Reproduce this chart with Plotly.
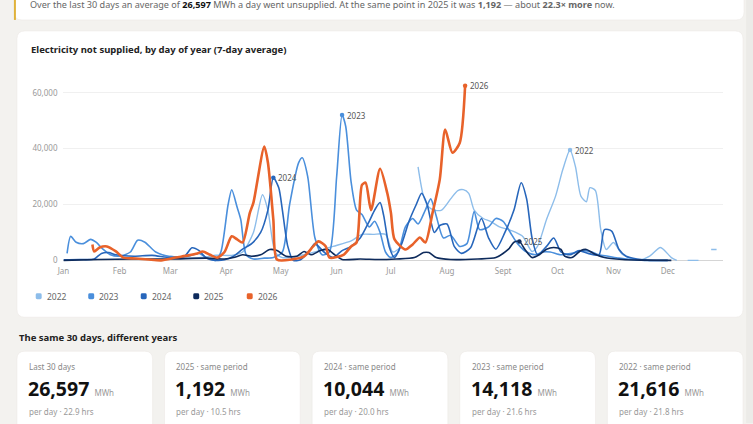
import plotly.graph_objects as go

W, H = 753, 424

# Month ticks (day of year)
month_days = [1, 32, 60, 91, 121, 152, 182, 213, 244, 274, 305, 335]
month_labels = ["Jan", "Feb", "Mar", "Apr", "May", "Jun", "Jul", "Aug", "Sept", "Oct", "Nov", "Dec"]

# 7-day average MWh not supplied
days_2022 = [60, 70, 80, 84, 88, 94, 100, 106, 111, 114, 118, 122, 130, 140, 150, 160, 166, 172, 179, 183, 188, None,
             197, 200, 203, 206, 210, 215, 219, 222, 225, 228, 233, 237, 242, 247, 251, 255, 260, 263, 268, 273,
             277, 281, 284, 287, 290, 292, 295, 298, 301, 305, 310, 319, 325, 331, 337, 340, None, 346, 352, None, 359, 362]
mwh_2022 = [1500, 800, 1200, 1800, 1800, 1800, 3000, 10000, 23500, 18000, 3000, 1000, 1500, 3000, 5000, 7000, 9300, 9300, 9300, 3000, 5000, None,
            33500, 23000, 19000, 18000, 18000, 22000, 25000, 25300, 24000, 18000, 15000, 14000, 12000, 11000, 10000, 8500, 3200, 5000, 14600, 23000,
            32500, 39500, 33500, 23000, 21000, 26000, 25000, 11000, 3900, 6400, 2100, 0, 1500, 4600, 1000, 0, None, 0, 0, None, 3900, 3900]

days_2023 = [3, 5, 8, 12, 16, 19, 23, 27, 32, 38, 42, 46, 52, 60, 70, 76, 80, 85, 88, 92, 94, 97, 99, 102, 106, 112,
             117, 122, 126, 131, 133, 136, 140, 144, 148, 152, 155, 157, 160, 163, 166, 170, 173, 176, 179, 182, 186,
             190, 194, 197, 201, 204, 207, 211, 215, 220, 224, 228, 231, 236, 240, 244, 248, 252, 257, 262, 266, 270,
             276, 282, 288, 293, 297, 302, 308, 315, 322, 335]
mwh_2023 = [2500, 8600, 6500, 6000, 7500, 6500, 3900, 2000, 1500, 3000, 7200, 6500, 3000, 1400, 1500, 2500, 1000, 0, 3000, 20000, 25300, 19000, 14600, 2000, 500, 800,
            1000, 3000, 20000, 35000, 36700, 30000, 8000, 2000, 3000, 30000, 52000, 48000, 28000, 18000, 16400, 12000, 14000, 10000, 3000, 1000, 3000,
            12000, 15000, 13000, 18000, 22000, 16000, 8000, 9000, 5000, 6000, 17500, 11000, 12000, 15000, 14000, 10000, 6000, 3000, 2000, 3000, 3000,
            2000, 2500, 3500, 3000, 2000, 1500, 800, 300, 0, 0]

days_2024 = [1, 10, 18, 22, 26, 30, 40, 50, 60, 68, 72, 76, 80, 85, 90, 95, 100, 105, 110, 114, 117, 120, 122, 125, 128,
             132, 137, 140, 145, 150, 155, 160, 165, 170, 173, 176, 178, 181, 184, 188, 192, 196, 199, 202, 206, 209,
             213, 217, 221, 226, 232, 236, 240, 245, 250, 254, 257, 260, 263, 268, 272, 276, 281, 286, 291, 297, 300,
             304, 308, 312, 318, 325, 335]
mwh_2024 = [200, 300, 500, 2500, 2800, 2000, 1500, 1800, 1000, 1500, 4500, 3500, 800, 0, 200, 1500, 4000, 6000, 10000, 18000, 29600, 26000, 18000, 5000, 0,
            200, 3500, 6000, 3000, 1000, 3500, 5000, 8000, 14000, 18000, 20700, 16000, 5000, 1000, 6000, 14000, 20000, 24000, 20000, 10000, 12500,
            13000, 5000, 2500, 4500, 15000, 8000, 4000, 10000, 18000, 27800, 22000, 8000, 2000, 5000, 8000, 3000, 2000, 3500, 2500, 2000, 11000,
            10500, 4000, 1500, 500, 0, 0]

days_2025 = [1, 20, 40, 60, 80, 90, 95, 100, 105, 110, 115, 119, 124, 130, 134, 138, 143, 147, 151, 155, 165, 175, 185,
             195, 200, 203, 207, 215, 230, 240, 247, 250, 253, 256, 260, 264, 268, 272, 276, 278, 282, 287, 290, 294,
             300, 310, 320, 337]
mwh_2025 = [0, 300, 500, 500, 800, 500, 1000, 2000, 1500, 2000, 3900, 3500, 1500, 1500, 3200, 2000, 3500, 3900, 2000, 300, 500, 300, 500,
            1000, 2800, 2800, 1000, 300, 500, 1000, 4000, 6500, 6800, 4000, 1000, 2000, 4000, 4600, 3900, 1500, 1000, 3500, 3900, 2500,
            1000, 300, 100, 0]

days_2026 = [17, 18, 21, 25, 30, 34, 41, 48, 55, 63, 70, 75, 78, 82, 86, 90, 94, 97, 100, 104, 106, 112, 114, 117, 119,
             127, 134, 139, 142, 146, 148, 156, 160, 163, 166, 168, 171, 176, 180, 182, 184, 190, 194, 198, 201, 205,
             209, 212, 216, 220, 223]
mwh_2026 = [5700, 3200, 4600, 5000, 3200, 1000, 700, 300, 0, 1000, 1800, 2500, 3200, 2000, 1000, 3000, 8600, 7500, 6400, 17000, 20700, 40700, 35000, 14600, 300,
            300, 1400, 5000, 6800, 5000, 1000, 2100, 5000, 6400, 27000, 27800, 18000, 32800, 24000, 17000, 7500, 3900, 5700, 8200, 6400, 17000,
            29000, 46800, 38500, 42000, 62500]

years = ["2022", "2023", "2024", "2025", "2026"]
series_days = [days_2022, days_2023, days_2024, days_2025, days_2026]
series_mwh = [mwh_2022, mwh_2023, mwh_2024, mwh_2025, mwh_2026]
colors = ["#8dbdea", "#4a8fdc", "#2766bb", "#0e2b5c", "#e8622a"]
widths = [1.4, 1.6, 1.6, 1.6, 2.6]

# Summary cards
card_labels = ["Last 30 days", "2025 · same period", "2024 · same period", "2023 · same period", "2022 · same period"]
card_values = ["26,597", "1,192", "10,044", "14,118", "21,616"]
card_hours = ["22.9", "10.5", "20.0", "21.6", "21.8"]


def px(x):
    return x / W


def py(y):
    return 1 - y / H


def rounded_rect(x0, y0, x1, y1, r, fill, line=None):
    rx, ry = r / W, r / H
    X0, X1, Y0, Y1 = px(x0), px(x1), py(y0), py(y1)
    path = (f"M {X0 + rx},{Y0} L {X1 - rx},{Y0} Q {X1},{Y0} {X1},{Y0 - ry} "
            f"L {X1},{Y1 + ry} Q {X1},{Y1} {X1 - rx},{Y1} L {X0 + rx},{Y1} "
            f"Q {X0},{Y1} {X0},{Y1 + ry} L {X0},{Y0 - ry} Q {X0},{Y0} {X0 + rx},{Y0} Z")
    return dict(type="path", path=path, xref="paper", yref="paper", fillcolor=fill,
                line=dict(color=line or fill, width=0.6 if line else 0), layer="below")


FONT = "Noto Sans"

fig = go.Figure()

for yr, d, v, c, w in zip(years, series_days, series_mwh, colors, widths):
    fig.add_trace(go.Scatter(x=d, y=v, mode="lines", name=yr, line=dict(color=c, width=w, shape="spline", smoothing=0.7),
                             connectgaps=False, showlegend=False, hoverinfo="skip"))

# Peak markers and labels
annotations = []
for yr, d, v, c in zip(years, series_days, series_mwh, colors):
    pairs = [(a, b) for a, b in zip(d, v) if a is not None]
    pd_, pv = max(pairs, key=lambda p: p[1])
    fig.add_trace(go.Scatter(x=[pd_], y=[pv], mode="markers", marker=dict(color=c, size=4.5),
                             showlegend=False, hoverinfo="skip"))
    annotations.append(dict(x=pd_, y=pv, xref="x", yref="y", text=yr, showarrow=False, xanchor="left",
                            xshift=3, font=dict(family=FONT, size=8, color="#555555")))

shapes = []
# page right strip
shapes.append(dict(type="rect", xref="paper", yref="paper", x0=px(746), x1=1, y0=0, y1=1,
                   fillcolor="#ecebe8", line=dict(width=0), layer="below"))
# header card
shapes.append(rounded_rect(7, -20, 744, 20, 8, "#ffffff", "#eceae6"))
shapes.append(dict(type="rect", xref="paper", yref="paper", x0=px(7), x1=px(9), y0=py(20), y1=1,
                   fillcolor="#e0b23a", line=dict(width=0), layer="below"))
# chart card
shapes.append(rounded_rect(10, 31, 743, 318, 8, "#ffffff", "#eceae6"))
# stat cards
card_x = [10, 159, 308, 457, 606]
for x0 in card_x:
    shapes.append(rounded_rect(x0, 352, x0 + 137, 450, 8, "#ffffff", "#eceae6"))

# legend
legend_x = [32, 85, 138, 191, 245]
for lx, yr, c in zip(legend_x, years, colors):
    shapes.append(rounded_rect(lx - 3, 294, lx + 3, 300, 1.5, c))
    shapes[-1]["layer"] = "above"
    annotations.append(dict(x=px(lx + 6), y=py(297), xref="paper", yref="paper", text=yr, showarrow=False,
                            xanchor="left", yanchor="middle", font=dict(family=FONT, size=8.5, color="#666666")))

annotations.append(dict(
    x=px(21), y=py(5), xref="paper", yref="paper", xanchor="left", yanchor="middle", showarrow=False,
    text=("Over the last 30 days an average of <b style='color:#111'>26,597</b> MWh a day went unsupplied. "
          "At the same point in 2025 it was <b>1,192</b> — about <b>22.3× more</b> now."),
    font=dict(family=FONT, size=9.1, color="#666666")))
annotations.append(dict(
    x=px(22), y=py(50), xref="paper", yref="paper", xanchor="left", yanchor="middle", showarrow=False,
    text="<b>Electricity not supplied, by day of year (7-day average)</b>",
    font=dict(family=FONT, size=9.5, color="#222222")))
annotations.append(dict(
    x=px(10), y=py(338), xref="paper", yref="paper", xanchor="left", yanchor="middle", showarrow=False,
    text="<b>The same 30 days, different years</b>",
    font=dict(family=FONT, size=9.5, color="#222222")))

for x0, lab, val, hrs in zip(card_x, card_labels, card_values, card_hours):
    annotations.append(dict(x=px(x0 + 10), y=py(367), xref="paper", yref="paper", xanchor="left", yanchor="middle",
                            showarrow=False, text=lab, font=dict(family=FONT, size=8, color="#888888")))
    annotations.append(dict(x=px(x0 + 9), y=py(389), xref="paper", yref="paper", xanchor="left", yanchor="middle",
                            showarrow=False,
                            text=f"<b>{val}</b> <span style='font-size:8px;color:#999999'>MWh</span>",
                            font=dict(family=FONT, size=19.5, color="#111111")))
    annotations.append(dict(x=px(x0 + 10), y=py(412), xref="paper", yref="paper", xanchor="left", yanchor="middle",
                            showarrow=False, text=f"per day · {hrs} hrs",
                            font=dict(family=FONT, size=8, color="#999999")))

y_lo, y_hi = -1500, 65000
fig.update_layout(
    width=W, height=H,
    margin=dict(l=0, r=0, t=0, b=0),
    paper_bgcolor="#f3f2ef",
    plot_bgcolor="rgba(0,0,0,0)",
    shapes=shapes,
    annotations=annotations,
    showlegend=False,
    xaxis=dict(domain=[px(57), px(723)], range=[1, 365.7], tickvals=month_days, ticktext=month_labels,
               showgrid=False, zeroline=False, showline=False, ticks="",
               tickfont=dict(family=FONT, size=8, color="#999999")),
    yaxis=dict(domain=[py(261 - y_lo / 357), py(261 - y_hi / 357)], range=[y_lo, y_hi],
               tickvals=[0, 20000, 40000, 60000], tickformat=",", showgrid=True, gridcolor="#f0f0f0",
               gridwidth=1, zeroline=True, zerolinecolor="#d5d5d5", zerolinewidth=1, ticks="",
               ticklabelstandoff=5, tickfont=dict(family=FONT, size=8, color="#999999")),
)

# pin the figure to the window corner (no default page margin)
pin = ("document.body.style.margin='0';document.body.style.overflow='hidden';"
       "var d=document.getElementById('{plot_id}');d.style.position='absolute';"
       "d.style.left='0px';d.style.top='0px';")
fig.write_html("out.html", config={"displayModeBar": False}, post_script=pin)
